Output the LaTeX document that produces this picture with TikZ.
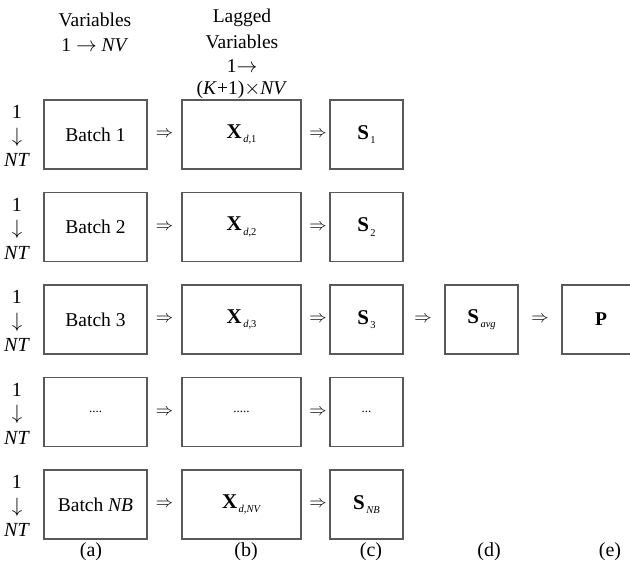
\documentclass[tikz,border=0pt]{standalone}
\usepackage{fontspec}
\setmainfont{Liberation Serif}
\begin{document}
\begin{tikzpicture}[x=1pt,y=-1pt,
  box/.style={draw=black!65,line width=1.1pt,minimum height=69pt,inner sep=0pt,font=\fontsize{19.5}{20}\selectfont},
  arr/.style={inner sep=0pt,font=\fontsize{19}{19}\selectfont},
  lbl/.style={inner sep=0pt,font=\fontsize{20}{21}\selectfont},
  hdr/.style={inner sep=0pt,font=\fontsize{19.5}{24}\selectfont}]
\useasboundingbox (0,0) rectangle (630,569);
\newcommand{\Xd}[1]{{\fontsize{21}{21}\selectfont\textbf{X}}\raisebox{-0.5ex}{\hspace{1.5pt}\fontsize{10.5}{11}\selectfont #1}}
\newcommand{\Sb}[1]{{\fontsize{21}{21}\selectfont\textbf{S}}\raisebox{-0.5ex}{\hspace{1.5pt}\fontsize{10.5}{11}\selectfont #1}}
% headers
\node[hdr] (h1a) at (95,20) {Variables};
\node[hdr] (h1b) at (95,45) {1 $\rightarrow$ \textit{NV}};
\node[hdr] (h2a) at (242,18) {Lagged};
\node[hdr] (h2b) at (242,42) {Variables};
\node[hdr] (h2c) at (242,66) {1$\rightarrow$};
\node[hdr] (h2d) at (242,89.5) {(\textit{K}+1)$\times$\textit{NV}};
% rows
\foreach \r/\y/\ta/\tb/\tc in {1/134.5/Batch 1/\Xd{\textit{d},1}/\Sb{1},
                              2/227/Batch 2/\Xd{\textit{d},2}/\Sb{2},
                              3/319.5/Batch 3/\Xd{\textit{d},3}/\Sb{3},
                              4/412/{\fontsize{13}{13}\selectfont ....}/{\fontsize{13}{13}\selectfont .....}/{\fontsize{13}{13}\selectfont ...},
                              5/504.5/Batch \textit{NB}/\Xd{\textit{d},\textit{NV}}/\Sb{\textit{NB}}}{
  \node[lbl] (lo\r) at (17,\y-22.5) {1};
  \node[lbl,font=\fontsize{21}{21}\selectfont] (lm\r) at (17,\y+2.5) {$\downarrow$};
  \node[lbl] (lu\r) at (17,\y+25.5) {\textit{NT}};
  \node[box,minimum width=103pt] (a\r) at (95.5,\y) {\ta};
  \node[box,minimum width=119pt] (b\r) at (241.5,\y) {\tb};
  \node[box,minimum width=73pt] (c\r) at (366.5,\y) {\tc};
  \node[arr] (p\r) at (164.5,\y) {$\Rightarrow$};
  \node[arr] (q\r) at (318,\y) {$\Rightarrow$};
}
\node[box,minimum width=73pt] (d) at (481.5,319.5) {\Sb{\textit{avg}}};
\node[box,minimum width=78pt] (e) at (601,319.5) {\textbf{P}};
\node[arr] (r1) at (423,319.5) {$\Rightarrow$};
\node[arr] (r2) at (540,319.5) {$\Rightarrow$};
% bottom labels
\foreach \n/\x in {a/91,b/246,c/371,d/489,e/610}{
  \node[lbl] (lab\n) at (\x,552) {(\n)};
}
\end{tikzpicture}
\end{document}
